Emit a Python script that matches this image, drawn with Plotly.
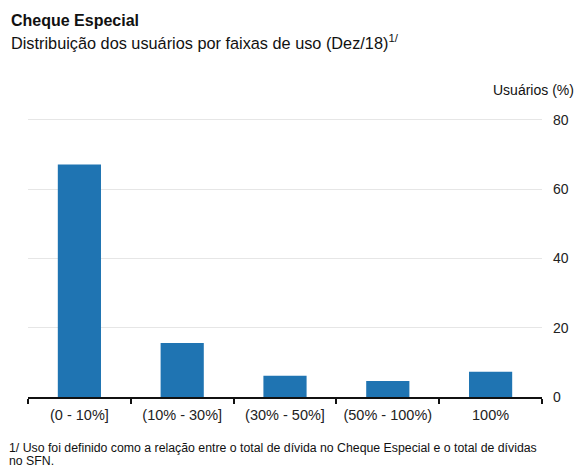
import plotly.graph_objects as go

categories = ["(0 - 10%]", "(10% - 30%]", "(30% - 50%]", "(50% - 100%)", "100%"]
usuarios = [67.1, 15.6, 6.1, 4.6, 7.3]
y_ticks = [0, 20, 40, 60, 80]

FONT = "Arial, Liberation Sans, Helvetica, sans-serif"
W, H = 581, 468
ML, MR, MT, MB = 28, 36, 118, 71

fig = go.Figure()
fig.add_trace(go.Bar(
    x=categories, y=usuarios,
    marker=dict(color="#1f74b2", line=dict(width=0)),
    width=0.42,
    hoverinfo="x+y",
))

fig.update_layout(
    width=W, height=H,
    margin=dict(l=ML, r=MR, t=MT, b=MB),
    paper_bgcolor="white", plot_bgcolor="white",
    font=dict(family=FONT, color="#111111", size=13),
    showlegend=False,
    bargap=0.58,
    xaxis=dict(
        type="category",
        tickson="boundaries",
        ticks="outside", ticklen=5, tickwidth=1.5, tickcolor="#111111",
        showline=True, linecolor="#111111", linewidth=1.5,
        showgrid=False,
        ticklabelstandoff=4,
        tickfont=dict(size=14.5, family=FONT, color="#222222"),
    ),
    yaxis=dict(
        side="right",
        range=[0, 80.5],
        tickvals=y_ticks,
        showgrid=True, gridcolor="#e6e6e6", gridwidth=1,
        zeroline=False,
        showline=False,
        ticks="",
        ticklabelstandoff=10,
        tickfont=dict(size=14, family=FONT, color="#222222"),
    ),
)

def px_x(x):
    return (x - ML) / (W - ML - MR)

def px_y(y):
    return 1 - (y - MT) / (H - MT - MB)

anns = [
    dict(text="<b>Cheque Especial</b>", x=9, y=21, size=16),
    dict(text="Distribuição dos usuários por faixas de uso (Dez/18)<sup>1/</sup>", x=9, y=42, size=16.3),
    dict(text="1/ Uso foi definido como a relação entre o total de dívida no Cheque Especial e o total de dívidas",
         x=7, y=448, size=12.3),
    dict(text="no SFN.", x=7, y=461, size=12.3),
]
for a in anns:
    fig.add_annotation(
        text=a["text"], xref="paper", yref="paper",
        x=px_x(a["x"]), y=px_y(a["y"]),
        xanchor="left", yanchor="middle", showarrow=False,
        font=dict(size=a["size"], family=FONT, color="#111111"),
        align="left",
    )
fig.add_annotation(
    text="Usuários (%)", xref="paper", yref="paper",
    x=px_x(579), y=px_y(90),
    xanchor="right", yanchor="middle", showarrow=False,
    font=dict(size=14, family=FONT, color="#111111"),
)

fig.write_html("out.html")
